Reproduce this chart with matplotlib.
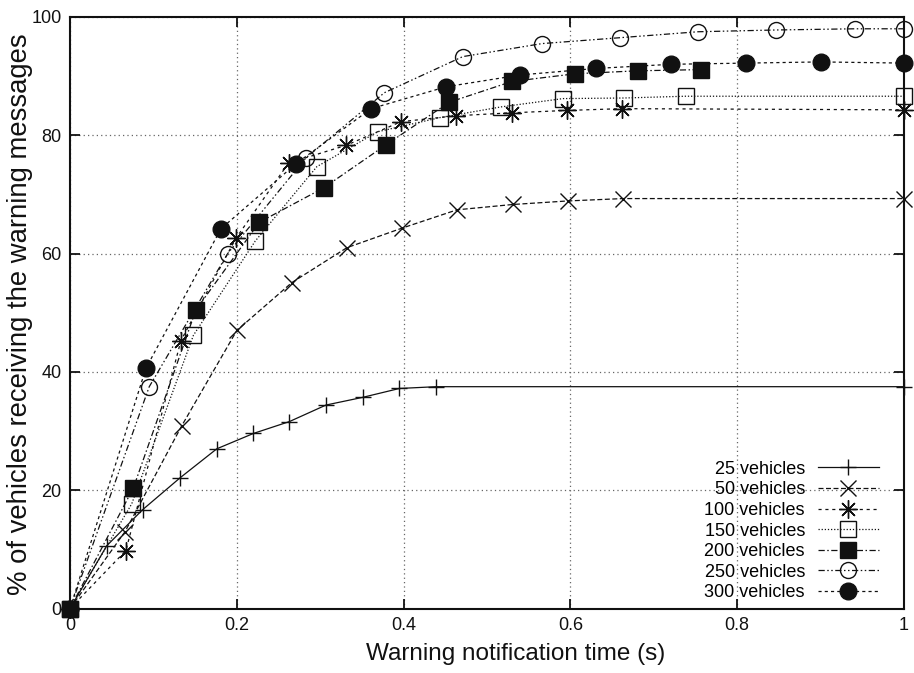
import matplotlib
matplotlib.use("Agg")
import matplotlib.pyplot as plt

plt.rcParams['font.family'] = ['Liberation Sans', 'DejaVu Sans']

# ---- data ----
labels = ["25 vehicles", "50 vehicles", "100 vehicles", "150 vehicles",
          "200 vehicles", "250 vehicles", "300 vehicles"]

x25 = [0, 0.044, 0.087, 0.132, 0.176, 0.220, 0.263, 0.307, 0.351, 0.395, 0.439, 1.0]
y25 = [0, 10.6, 16.7, 22.1, 27.0, 29.6, 31.6, 34.4, 35.7, 37.2, 37.5, 37.5]

x50 = [0, 0.066, 0.134, 0.200, 0.266, 0.332, 0.398, 0.464, 0.531, 0.597, 0.663, 1.0]
y50 = [0, 13.0, 30.9, 47.0, 55.1, 61.0, 64.3, 67.4, 68.3, 68.9, 69.3, 69.3]

x100 = [0, 0.067, 0.133, 0.199, 0.262, 0.331, 0.397, 0.463, 0.530, 0.596, 0.662, 1.0]
y100 = [0, 9.8, 45.3, 62.6, 75.3, 78.3, 82.3, 83.3, 83.8, 84.2, 84.5, 84.3]

x150 = [0, 0.074, 0.148, 0.222, 0.296, 0.369, 0.444, 0.517, 0.591, 0.664, 0.738, 1.0]
y150 = [0, 17.7, 46.2, 62.1, 74.7, 80.6, 83.0, 84.8, 86.2, 86.3, 86.6, 86.6]

x200 = [0, 0.076, 0.151, 0.227, 0.304, 0.379, 0.455, 0.530, 0.606, 0.681, 0.757]
y200 = [0, 20.4, 50.5, 65.3, 71.1, 78.4, 85.6, 89.1, 90.4, 90.9, 91.1]

x250 = [0, 0.095, 0.189, 0.283, 0.377, 0.471, 0.566, 0.660, 0.753, 0.847, 0.941, 1.0]
y250 = [0, 37.5, 60.0, 76.2, 87.2, 93.3, 95.5, 96.5, 97.5, 97.8, 98.0, 98.0]

x300 = [0, 0.091, 0.181, 0.271, 0.361, 0.451, 0.540, 0.631, 0.721, 0.811, 0.900, 1.0]
y300 = [0, 40.6, 64.2, 75.2, 84.5, 88.2, 90.2, 91.3, 92.0, 92.2, 92.4, 92.2]

xticks = [0, 0.2, 0.4, 0.6, 0.8, 1.0]
xticklabels = ["0", "0.2", "0.4", "0.6", "0.8", "1"]
yticks = [0, 20, 40, 60, 80, 100]

series = [(x25, y25), (x50, y50), (x100, y100), (x150, y150),
          (x200, y200), (x250, y250), (x300, y300)]

styles = [
    dict(ls='-', marker='+', ms=12, mfc='none'),
    dict(ls=(0, (4, 2)), marker='x', ms=11, mfc='none'),
    dict(ls=(0, (2.5, 3)), marker=(8, 2, 0), ms=13, mfc='none'),
    dict(ls=(0, (1, 1.5)), marker='s', ms=11, mfc='none'),
    dict(ls=(0, (5, 2, 1.2, 2)), marker='s', ms=11.5, mfc='#111111'),
    dict(ls=(0, (5, 2, 1.2, 2, 1.2, 2)), marker='o', ms=11.5, mfc='none'),
    dict(ls=(0, (2.5, 2.5)), marker='o', ms=12, mfc='#111111'),
]

fig = plt.figure(figsize=(9.14, 6.73), dpi=100)
ax = fig.add_axes([0.0766, 0.0958, 0.9125, 0.879])

for (xs, ys), lab, st in zip(series, labels, styles):
    ax.plot(xs, ys, color='#111111', lw=0.9, mec='#111111', mew=1.0,
            label=lab, clip_on=False, **st)

ax.set_xlim(0, 1)
ax.set_ylim(0, 100)
ax.set_xticks(xticks)
ax.set_xticklabels(xticklabels)
ax.set_yticks(yticks)
ax.grid(True, color='#666666', ls=(0, (1, 2.5)), lw=0.9)
ax.set_axisbelow(True)
ax.tick_params(direction='in', length=7, width=1.3, top=True, right=True,
               labelsize=13, pad=6, colors='#111111')
for sp in ax.spines.values():
    sp.set_linewidth(1.5)
    sp.set_color('#111111')

ax.set_xlabel("Warning notification time (s)", fontsize=17.5, color='#111111')
ax.xaxis.set_label_coords(0.534, -0.058)
ax.set_ylabel("% of vehicles receiving the warning messages", fontsize=19.8, color='#111111')
ax.yaxis.set_label_coords(-0.044, 0.497)

leg = ax.legend(loc='lower right', bbox_to_anchor=(0.970, 0.012), frameon=False,
                markerfirst=False, fontsize=13, labelspacing=0.2,
                handlelength=3.4, handletextpad=0.7, borderpad=0, borderaxespad=0)

fig.savefig("out.png", dpi=100)
